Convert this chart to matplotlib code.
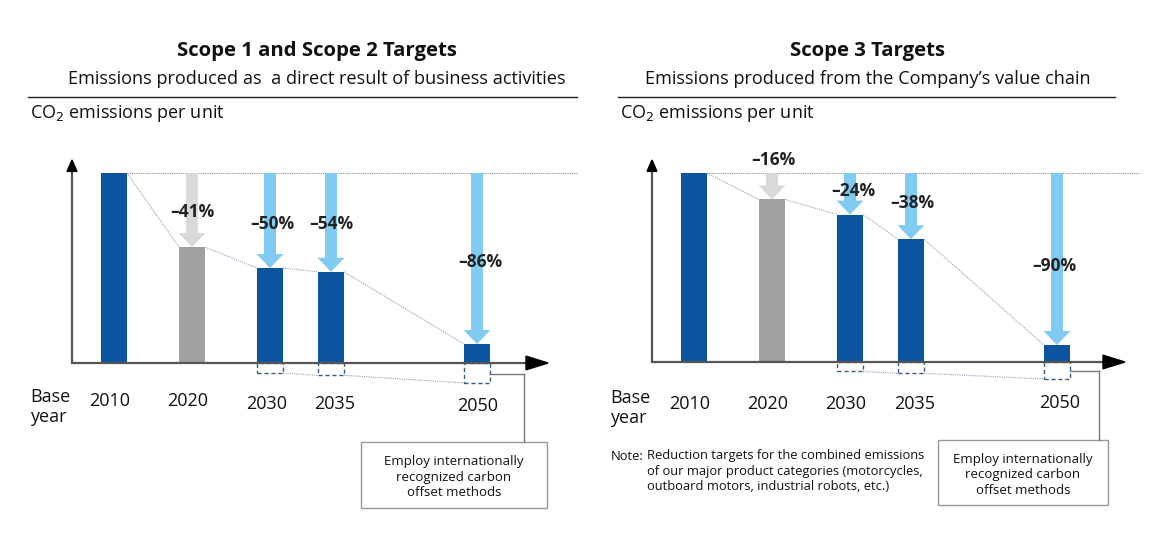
import matplotlib
matplotlib.use("Agg")
import matplotlib.pyplot as plt
from matplotlib.patches import FancyArrow, Rectangle, Polygon
from matplotlib.lines import Line2D

plt.rcParams['font.family'] = ['Open Sans', 'DejaVu Sans']

# ---------------- data ----------------
years = ["2010", "2020", "2030", "2035", "2050"]
s12_levels = [100, 61, 50, 48, 10]          # bar heights (index, base=100)
s12_labels = ["", "\u201341%", "\u201350%", "\u201354%", "\u201386%"]
s12_offsets = [0, 0, 5.3, 6.5, 10.5]          # dashed offset boxes below axis
s3_levels = [100, 86, 78, 65, 9]
s3_labels = ["", "\u201316%", "\u201324%", "\u201338%", "\u201390%"]
s3_offsets = [0, 0, 5, 6, 9]
bar_kind = ["base", "actual", "target", "target", "target"]
note_lines = ["Reduction targets for the combined emissions",
              "of our major product categories (motorcycles,",
              "outboard motors, industrial robots, etc.)"]
box_lines = ["Employ internationally", "recognized carbon", "offset methods"]

W, H = 1158, 538
fig = plt.figure(figsize=(W / 100, H / 100), dpi=100)

def fx(x):
    return x / W

def fy(y):
    return 1 - y / H

DARK = "#0b55a0"
GRAY = "#a0a0a0"
LGRAY = "#d9d9d9"
LBLUE = "#80cbf2"
DOT = "#8ea3b8"
BOXE = "#3d5f86"

# layout (pixel) of bar slots, relative to y-axis
slot = [42, 120, 198, 259, 405]
barw = 26


def panel(x0, y0, scale, xend, dotend, levels, labels, offsets, lab_pos, year_pos,
          conn_x, box):
    L, R, T, B = x0 - 15, x0 + 540, 140, 400
    ax = fig.add_axes([fx(L), fy(B), (R - L) / W, (B - T) / H])
    ax.set_xlim(L - x0, R - x0)
    ax.set_ylim((y0 - B) / scale, (y0 - T) / scale)
    ax.axis("off")
    ytop = (y0 - 160) / scale
    # axes
    ax.plot([0, 0], [0, ytop - 4], color="#555555", lw=1.6, solid_capstyle="butt", zorder=5)
    ax.add_patch(Polygon([[-5, ytop - 6], [5, ytop - 6], [0, ytop]], closed=True,
                         color="black", zorder=6))
    ax.plot([0, xend - 18], [0, 0], color="#555555", lw=1.6, zorder=5)
    ax.add_patch(Polygon([[xend - 22, 3.6], [xend - 22, -3.6], [xend, 0]], closed=True,
                         color="black", zorder=6))
    # top dotted reference line
    ax.plot([slot[0] + barw / 2, dotend], [100, 100], color="#8c8c8c", lw=0.8,
            ls=(0, (1, 1)), clip_on=False, zorder=2)
    colors = {"base": DARK, "actual": GRAY, "target": DARK}
    acol = {"actual": LGRAY, "target": LBLUE}
    for i, v in enumerate(levels):
        ax.bar(slot[i], v, width=barw, color=colors[bar_kind[i]], zorder=3)
        if i > 0:
            hl = 14 / scale
            ax.add_patch(FancyArrow(slot[i], 100, 0, -(100 - v), width=12, head_width=27,
                                    head_length=hl, length_includes_head=True,
                                    color=acol[bar_kind[i]], lw=0, zorder=3))
        if i < len(levels) - 1:
            ax.plot([slot[i] + barw / 2, slot[i + 1] - barw / 2], [v, levels[i + 1]],
                    color=DOT, lw=0.8, ls=(0, (1, 1)), zorder=2)
    # offset boxes
    idx = [i for i, o in enumerate(offsets) if o > 0]
    for i in idx:
        ax.add_patch(Rectangle((slot[i] - barw / 2, -offsets[i]), barw, offsets[i],
                               fill=False, ec=BOXE, lw=1.0, ls=(0, (3, 2)), zorder=4))
    for a, b in zip(idx[:-1], idx[1:]):
        ax.plot([slot[a] + barw / 2, slot[b] - barw / 2], [-offsets[a], -offsets[b]],
                color=DOT, lw=0.8, ls=(0, (1, 1)), zorder=2)
    # percentage labels
    for i, t in enumerate(labels):
        if t:
            lx, ly = lab_pos[i]
            fig.text(fx(lx), fy(ly), t, ha="center", va="center", fontsize=12.5,
                     fontweight="bold", color="#222222")
    # year labels
    for i, yv in enumerate(years):
        px, py = year_pos[i]
        fig.text(fx(px), fy(py), yv, ha="center", va="center", fontsize=13,
                 color="#111111")
    # connector to note box
    last = idx[-1]
    cx_data = conn_x - x0
    cy = -(offsets[last] * 0.5 + 0.3)
    ax.plot([slot[last] + barw / 2, cx_data], [cy, cy],
            color="#777777", lw=1.0, clip_on=False)
    bx0, by0, bx1, by1 = box
    conn_y_px = y0 - cy * scale
    fig.add_artist(Line2D([fx(conn_x), fx(conn_x)], [fy(conn_y_px), fy(by0)],
                          color="#777777", lw=1.0))
    fig.add_artist(Rectangle((fx(bx0), fy(by1)), (bx1 - bx0) / W, (by1 - by0) / H,
                             fill=False, ec="#999999", lw=1.0))
    cyb = (by0 + by1) / 2 + 2
    for k, line in enumerate(box_lines):
        fig.text(fx((bx0 + bx1) / 2), fy(cyb + (k - 1) * 15.5), line,
                 ha="center", va="center", fontsize=9.5, color="#111111")
    return ax


# ----- left panel -----
panel(72, 363, 1.9, 476, 505, s12_levels, s12_labels, s12_offsets,
      [None, (192, 212), (272, 224), (331, 224), (480, 262)],
      [(110, 401), (188, 401), (267, 404), (335, 404), (478, 406)],
      524, (361, 442, 547, 508))
# ----- right panel -----
panel(652, 362, 1.89, 473, 488, s3_levels, s3_labels, s3_offsets,
      [None, (773, 160), (853, 191), (912, 203), (1054, 266)],
      [(690, 404), (768, 404), (846, 404), (915, 404), (1060, 403)],
      1099, (938, 440, 1108, 505))

# titles
fig.text(fx(317), fy(51), "Scope 1 and Scope 2 Targets", ha="center", va="center",
         fontsize=14.7, fontweight="bold", color="#111111")
fig.text(fx(317), fy(79), "Emissions produced as  a direct result of business activities",
         ha="center", va="center", fontsize=13.1, color="#111111")
fig.text(fx(868), fy(51), "Scope 3 Targets", ha="center", va="center",
         fontsize=14.7, fontweight="bold", color="#111111")
fig.text(fx(868), fy(79), "Emissions produced from the Company\u2019s value chain",
         ha="center", va="center", fontsize=13.1, color="#111111")
fig.add_artist(Line2D([fx(28), fx(577)], [fy(97), fy(97)], color="#222222", lw=1.0))
fig.add_artist(Line2D([fx(618), fx(1115)], [fy(97), fy(97)], color="#222222", lw=1.0))
fig.text(fx(30), fy(113), "CO$_2$ emissions per unit", ha="left", va="center",
         fontsize=13, color="#111111")
fig.text(fx(620), fy(113), "CO$_2$ emissions per unit", ha="left", va="center",
         fontsize=13, color="#111111")

# base year labels
fig.text(fx(30), fy(407), "Base\nyear", ha="left", va="center", fontsize=13,
         linespacing=1.1, color="#111111")
fig.text(fx(610), fy(408), "Base\nyear", ha="left", va="center", fontsize=13,
         linespacing=1.1, color="#111111")

# note
fig.text(fx(611), fy(456), "Note:", ha="left", va="center", fontsize=9.3, color="#111111")
for k, line in enumerate(note_lines):
    fig.text(fx(647), fy(456 + 15 * k), line, ha="left", va="center", fontsize=9.3,
             color="#111111")

fig.savefig("out.png", dpi=100, facecolor="white")
